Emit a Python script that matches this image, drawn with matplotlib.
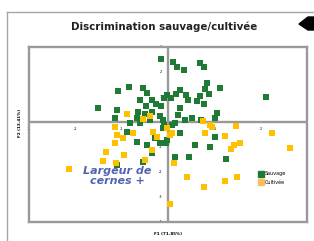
import matplotlib
matplotlib.use('Agg')
import matplotlib.pyplot as plt
from matplotlib.patches import Polygon
from matplotlib.lines import Line2D

# scores on F1 / F2
sauvage_x = [-0.15, -0.84, -1.08, -1.51, -1.10, -1.14, -0.54, -0.45, -0.60, -0.35,
             -0.26, -0.48, -0.15, -0.09, -0.65, -0.50, -0.67, -0.35, -0.17, -0.39,
             -0.11, 0.11, 0.19, 0.35, 0.69, 0.78, 1.12, 0.84, 0.80, 0.89,
             0.69, 0.63, 0.78, 0.26, 0.17, 0.39, 0.43, -0.02, 0.06, 0.26,
             0.22, 0.37, 0.52, 0.71, 1.06, 1.02, 2.12, 0.09, 0.26, -0.09,
             -0.02, -0.04, 0.58, 1.02, 0.91, 0.15, 0.45, 1.25, -1.10, -0.54,
             -0.67, -0.45, -0.35, -0.17, -0.28, -0.89, -0.82, -0.60, -0.11, 0.15]
sauvage_y = [2.52, 1.40, 1.24, 0.56, 0.48, 0.16, 1.36, 1.16, 0.88, 0.88,
             0.72, 0.64, 0.64, 0.96, 0.40, 0.32, 0.16, 0.40, 0.24, 0.08,
             0.08, 2.40, 2.20, 2.08, 2.36, 2.20, 1.36, 1.56, 1.32, 1.12,
             1.04, 0.84, 0.72, 1.28, 1.12, 1.08, 0.88, 1.08, 0.96, 0.56,
             0.28, 0.08, 0.16, 0.08, 0.36, 0.16, 1.00, -0.12, -0.44, -0.12,
             -0.72, -0.84, -0.92, -0.60, -1.00, -1.40, -1.40, -1.48, -1.72, -1.60,
             -0.80, -0.92, -1.24, -0.84, -0.64, -0.40, -0.04, -0.04, -0.24, -0.04]

cultivee_x = [-2.14, -1.40, -1.34, -1.14, -1.10, -0.95, -0.97, -0.76, -0.50, -0.32,
              -0.24, -0.35, -0.54, -1.12, -0.89, -0.39, -1.14, 0.80, 1.23, 1.47,
              1.43, 1.36, 1.56, 2.25, 2.63, 0.13, 0.41, 0.78, 1.23, 1.49,
              0.04, 0.04, -0.02, 0.91, 0.76, 0.95, 0.09]
cultivee_y = [-1.88, -1.56, -1.20, -0.84, -0.52, -1.32, -0.64, -0.44, -1.52, -0.40,
              -0.60, -1.12, 0.12, -1.64, 0.32, 0.24, -0.20, -0.44, -0.56, -0.16,
              -0.92, -1.08, -0.84, -0.44, -1.04, -1.64, -2.20, -2.60, -2.36, -2.20,
              -3.28, -0.52, -0.24, -0.12, 0.04, -0.20, -0.44]

x_ticks = [-3, -2, -1, 1, 2, 3]
y_ticks = [3, 2, 1, -1, -2, -3, -4]

green = '#1f7a35'
gold = '#ffc000'
grey = '#999999'

W, H = 314, 241
fig = plt.figure(figsize=(W / 100, H / 100), dpi=100)

# outer frame of the slide
fig.add_artist(Line2D([7 / W, 7 / W], [0, 1 - 12 / H], color='#a6a6a6', lw=1.0))
fig.add_artist(Line2D([7 / W, 1], [1 - 12 / H, 1 - 12 / H], color='#a6a6a6', lw=1.0))
# black arrow shape at top right
arrow = [(299, 24), (308, 17), (314, 17), (314, 30), (308, 30)]
fig.add_artist(Polygon([(px / W, 1 - py / H) for px, py in arrow],
                       closed=True, color='black', transform=fig.transFigure))

fig.text(164 / W, 1 - 27 / H, 'Discrimination sauvage/cultivée', ha='center', va='center',
         fontsize=7.4, fontweight='bold', color='#222222')

ax = fig.add_axes([29 / W, 1 - 222 / H, 278 / W, 175 / H])
ax.set_xlim(-3, 3)
ax.set_ylim(-4, 3)
ax.set_xticks([])
ax.set_yticks([])
for s in ax.spines.values():
    s.set_color(grey)
    s.set_linewidth(1.7)
ax.axhline(0, color=grey, lw=1.7, zorder=1)
ax.axvline(0, color=grey, lw=1.7, zorder=1)

for t in x_ticks:
    ax.text(t, -0.3, str(t), ha='center', va='center', fontsize=2.5, zorder=0)
for t in y_ticks:
    ax.text(-0.15, t, str(t), ha='center', va='center', fontsize=2.5, zorder=0)

ax.scatter(sauvage_x, sauvage_y, marker='s', s=20, color=green, lw=0, zorder=3)
ax.scatter(cultivee_x, cultivee_y, marker='s', s=20, color=gold, lw=0, zorder=3)

ax.text(-1.10, -2.16, 'Largeur de\ncernes +', ha='center', va='center', fontsize=8,
        fontstyle='italic', fontweight='bold', color='#5363b0', linespacing=1.1)

handles = [Line2D([], [], marker='s', ls='', color=green, markersize=4, label='Sauvage'),
           Line2D([], [], marker='s', ls='', color='#fbbf5c', markersize=4, label='Cultivée')]
ax.legend(handles=handles, loc='center left', bbox_to_anchor=(0.81, 0.25), frameon=False,
          fontsize=3.5, handletextpad=0.3, handlelength=1.0, labelspacing=0.8)

fig.text(168 / W, 1 - 234 / H, 'F1 (71.85%)', ha='center', va='center',
         fontsize=3, fontweight='bold')
fig.text(20 / W, 1 - 123 / H, 'F2 (13.41%)', ha='center', va='center',
         fontsize=3, fontweight='bold', rotation=90)

fig.savefig('out.png', dpi=100)
